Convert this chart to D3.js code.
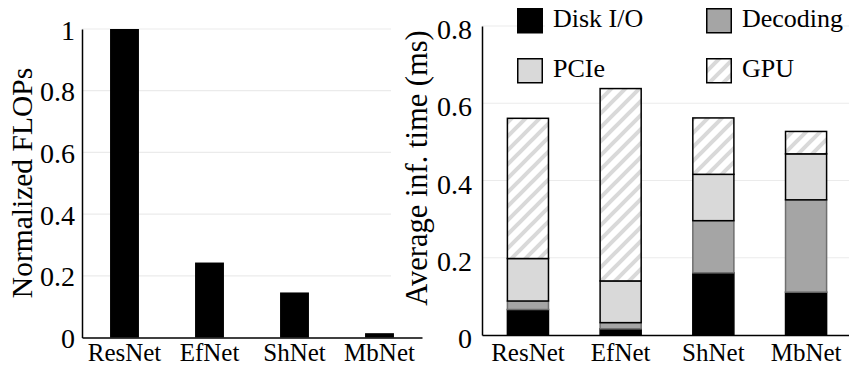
<!DOCTYPE html>
<html>
<head>
<meta charset="utf-8">
<script src="https://cdn.jsdelivr.net/npm/d3@7"></script>
<style>
  body { margin: 0; background: #fff; }
</style>
</head>
<body>
<div id="chart"></div>
<script>
// data
const models = ['ResNet', 'EfNet', 'ShNet', 'MbNet'];
const flops = [1.0, 0.243, 0.146, 0.014];
const flopTicks = [0, 0.2, 0.4, 0.6, 0.8, 1];

const stages = ['Disk I/O', 'Decoding', 'PCIe', 'GPU'];
const diskIO = [0.066, 0.016, 0.161, 0.111];
const decoding = [0.022, 0.016, 0.135, 0.239];
const pcie = [0.110, 0.108, 0.120, 0.119];
const gpu = [0.363, 0.498, 0.146, 0.058];
const timeTicks = [0, 0.2, 0.4, 0.6, 0.8];

const FONT = '"Liberation Serif", Tinos, "Times New Roman", "DejaVu Serif", "Noto Serif", serif';
const W = 849, H = 366;
const svg = d3.select('#chart').append('svg')
  .attr('width', W).attr('height', H)
  .style('font-family', FONT);

const defs = svg.append('defs');
const hatch = defs.append('pattern')
  .attr('id', 'hatch')
  .attr('patternUnits', 'userSpaceOnUse')
  .attr('width', 14).attr('height', 14);
hatch.append('rect').attr('width', 14).attr('height', 14).attr('fill', '#fff');
hatch.append('path')
  .attr('d', 'M-3.5,3.5 L3.5,-3.5 M0,14 L14,0 M10.5,17.5 L17.5,10.5')
  .attr('stroke', '#d9d9d9').attr('stroke-width', 4);

const gridColor = '#ebebeb';

function styleText(sel, size) {
  sel.style('font-family', FONT).style('font-size', size).attr('fill', '#000');
}

// ---- left panel: normalized FLOPs
const x1 = d3.scaleBand().domain(models).range([82, 422])
  .paddingInner(0.66).paddingOuter(0.33);
const y1 = d3.scaleLinear().domain([0, 1]).range([337.5, 29]);

const left = svg.append('g');
left.append('g').selectAll('line').data(flopTicks.slice(1)).join('line')
  .attr('x1', 82).attr('x2', 391)
  .attr('y1', d => y1(d)).attr('y2', d => y1(d))
  .attr('stroke', gridColor).attr('stroke-width', 1.2);

left.selectAll('rect.bar').data(models).join('rect')
  .attr('class', 'bar')
  .attr('x', d => x1(d))
  .attr('width', x1.bandwidth())
  .attr('y', (d, i) => y1(flops[i]))
  .attr('height', (d, i) => y1(0) - y1(flops[i]))
  .attr('fill', '#000');

const ax1 = left.append('g').attr('transform', 'translate(82,0)')
  .call(d3.axisLeft(y1).tickValues(flopTicks).tickSize(0).tickPadding(7)
    .tickFormat(d3.format('~g')));
ax1.attr('font-family', null);
ax1.select('.domain').attr('stroke', '#000').attr('stroke-width', 1.5);
styleText(ax1.selectAll('text').attr('dy', '0.36em'), '28px');

const bx1 = left.append('g').attr('transform', `translate(0,${y1(0)})`)
  .call(d3.axisBottom(x1).tickSize(0).tickPadding(6));
bx1.attr('font-family', null);
bx1.select('.domain').attr('stroke', '#000').attr('stroke-width', 1.5);
styleText(bx1.selectAll('text').attr('dy', '0.71em'), '25px');

styleText(left.append('text')
  .attr('transform', 'translate(32,183) rotate(-90)')
  .attr('text-anchor', 'middle')
  .text('Normalized FLOPs'), '29.5px');

// ---- right panel: average inference time
const x2 = d3.scaleBand().domain(models).range([482, 852])
  .paddingInner(0.557).paddingOuter(0.274);
const y2 = d3.scaleLinear().domain([0, 0.8]).range([335, 26]);

const rows = models.map((m, i) => ({
  model: m,
  'Disk I/O': diskIO[i], 'Decoding': decoding[i], 'PCIe': pcie[i], 'GPU': gpu[i]
}));
const series = d3.stack().keys(stages)(rows);

const fills = { 'Disk I/O': '#000', 'Decoding': '#a5a5a5', 'PCIe': '#d9d9d9', 'GPU': 'url(#hatch)' };
const strokes = { 'Disk I/O': '#000', 'Decoding': '#6f6f6f', 'PCIe': '#000', 'GPU': '#000' };

const right = svg.append('g');
right.append('g').selectAll('line').data(timeTicks.slice(1)).join('line')
  .attr('x1', 482).attr('x2', W)
  .attr('y1', d => y2(d)).attr('y2', d => y2(d))
  .attr('stroke', gridColor).attr('stroke-width', 1.2);

right.append('g').selectAll('g').data(series).join('g')
  .selectAll('rect').data(s => s.map(p => ({ p, key: s.key }))).join('rect')
  .attr('x', d => x2(d.p.data.model))
  .attr('width', x2.bandwidth())
  .attr('y', d => y2(d.p[1]))
  .attr('height', d => y2(d.p[0]) - y2(d.p[1]))
  .attr('fill', d => fills[d.key])
  .attr('stroke', d => strokes[d.key])
  .attr('stroke-width', 1.5);

const ax2 = right.append('g').attr('transform', 'translate(482,0)')
  .call(d3.axisLeft(y2).tickValues(timeTicks).tickSize(0).tickPadding(10)
    .tickFormat(d3.format('~g')));
ax2.attr('font-family', null);
ax2.select('.domain').attr('stroke', '#000').attr('stroke-width', 1.5);
styleText(ax2.selectAll('text').attr('dy', '0.45em'), '28px');

const bx2 = right.append('g').attr('transform', `translate(0,${y2(0)})`)
  .call(d3.axisBottom(x2).tickSize(0).tickPadding(8));
bx2.attr('font-family', null);
bx2.select('.domain').attr('stroke', '#000').attr('stroke-width', 1.5);
styleText(bx2.selectAll('text').attr('dy', '0.71em'), '25px');

styleText(right.append('text')
  .attr('transform', 'translate(427,168) rotate(-90)')
  .attr('text-anchor', 'middle')
  .text('Average inf. time (ms)'), '30.5px');

// legend
const legend = svg.append('g');
legend.append('rect').attr('x', 545).attr('y', 4).attr('width', 297).attr('height', 82)
  .attr('fill', '#fff');
const legPos = [[517, 8], [706, 8], [517, 58], [706, 58]];
stages.forEach((k, i) => {
  const [lx, ly] = legPos[i];
  const g = legend.append('g').attr('transform', `translate(${lx},${ly})`);
  g.append('rect').attr('x', 0.75).attr('y', 0.75).attr('width', 24.5).attr('height', 24)
    .attr('fill', fills[k]).attr('stroke', '#000').attr('stroke-width', 1.5);
  styleText(g.append('text').attr('x', 36).attr('y', 19).text(k), '26px');
});
</script>
</body>
</html>
